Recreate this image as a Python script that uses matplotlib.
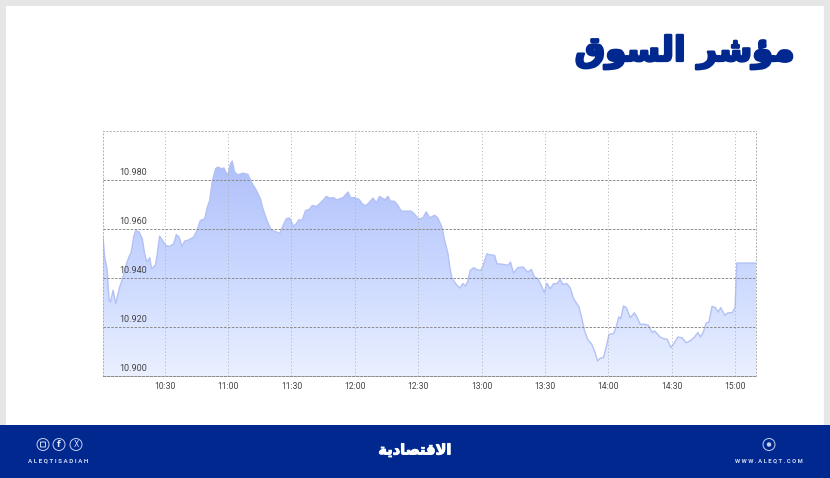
import numpy as np
import matplotlib
matplotlib.use('Agg')
import matplotlib.pyplot as plt
import matplotlib.patheffects as pe
from matplotlib.patches import Circle, Rectangle, FancyBboxPatch

# minutes after 10:00 and index level
minutes = [0.8, 1.6, 2.7, 3.7, 4.3, 5.6, 6.8, 8.7, 10.3, 11.9, 13.1, 14.2, 15.3, 16.3, 17.9, 19.4, 20.5, 21.6, 22.9, 23.8,
           25.6, 26.5, 27.6, 28.9, 30.5, 32.4, 34.3, 35.5, 36.8, 38.2, 39.5, 41.0, 42.1, 43.7, 45.3, 46.9, 48.9, 50.0, 51.3, 52.6,
           54.1, 55.2, 56.8, 58.1, 59.2, 60.1, 61.1, 62.0, 63.1, 64.7, 67.1, 69.4, 71.0, 73.4, 75.3, 76.5, 78.4, 80.5, 82.5, 84.4,
           85.7, 87.6, 89.1, 91.0, 92.3, 93.6, 95.0, 96.7, 98.3, 99.9, 101.8, 103.3, 104.9, 106.5, 108.1, 110.0, 111.5, 114.4, 116.8, 117.9,
           119.9, 122.0, 123.8, 125.4, 127.0, 128.6, 130.2, 131.7, 134.1, 135.7, 136.8, 138.8, 140.4, 142.0, 144.4, 146.7, 148.3, 150.2, 152.2, 153.8,
           155.4, 157.8, 159.3, 161.2, 162.5, 164.1, 165.2, 166.1, 168.0, 169.6, 171.2, 172.3, 173.5, 174.6, 176.2, 177.8, 179.5, 180.6, 182.5, 183.8,
           186.2, 187.3, 190.1, 192.5, 193.7, 195.1, 197.2, 199.6, 201.9, 203.5, 205.1, 206.7, 208.2, 209.7, 210.9, 212.5, 214.1, 215.6, 217.2, 218.5,
           220.4, 222.0, 223.5, 226.1, 227.3, 228.7, 230.3, 232.2, 233.8, 234.9, 236.2, 237.7, 239.0, 240.3, 242.5, 243.7, 245.0, 245.9, 247.2, 248.5,
           250.4, 252.4, 253.5, 255.1, 257.1, 259.0, 260.8, 261.9, 264.5, 266.3, 267.9, 269.6, 271.3, 272.9, 274.9, 276.8, 278.7, 280.8, 282.4, 283.6,
           285.0, 286.3, 287.6, 289.1, 290.7, 292.0, 293.2, 295.1, 296.6, 298.6, 300.0, 300.8, 309.9]
level = [10.9567, 10.9486, 10.9438, 10.9309, 10.9302, 10.9350, 10.9295, 10.9363, 10.9404, 10.9458, 10.9486, 10.9506, 10.9567, 10.9594, 10.9588, 10.9560, 10.9499, 10.9465, 10.9483, 10.9438,
         10.9452, 10.9499, 10.9571, 10.9554, 10.9533, 10.9529, 10.9540, 10.9577, 10.9567, 10.9529, 10.9551, 10.9554, 10.9559, 10.9567, 10.9594, 10.9635, 10.9641, 10.9683, 10.9717, 10.9798,
         10.9846, 10.9853, 10.9846, 10.9849, 10.9826, 10.9828, 10.9866, 10.9877, 10.9832, 10.9821, 10.9828, 10.9823, 10.9792, 10.9758, 10.9724, 10.9683, 10.9635, 10.9594, 10.9590, 10.9581,
         10.9608, 10.9642, 10.9645, 10.9611, 10.9622, 10.9638, 10.9635, 10.9676, 10.9679, 10.9696, 10.9692, 10.9703, 10.9717, 10.9733, 10.9726, 10.9728, 10.9719, 10.9728, 10.9751, 10.9728,
         10.9728, 10.9721, 10.9700, 10.9696, 10.9710, 10.9726, 10.9707, 10.9733, 10.9719, 10.9733, 10.9714, 10.9713, 10.9696, 10.9673, 10.9673, 10.9673, 10.9660, 10.9641, 10.9645, 10.9670,
         10.9646, 10.9656, 10.9645, 10.9608, 10.9554, 10.9499, 10.9431, 10.9397, 10.9374, 10.9359, 10.9377, 10.9367, 10.9386, 10.9431, 10.9442, 10.9434, 10.9431, 10.9447, 10.9499, 10.9495,
         10.9492, 10.9458, 10.9456, 10.9452, 10.9465, 10.9420, 10.9442, 10.9445, 10.9424, 10.9435, 10.9404, 10.9397, 10.9370, 10.9340, 10.9379, 10.9356, 10.9377, 10.9377, 10.9394, 10.9374,
         10.9377, 10.9359, 10.9316, 10.9282, 10.9241, 10.9186, 10.9148, 10.9129, 10.9094, 10.9061, 10.9073, 10.9075, 10.9118, 10.9170, 10.9173, 10.9200, 10.9241, 10.9234, 10.9286, 10.9279,
         10.9238, 10.9258, 10.9241, 10.9211, 10.9211, 10.9207, 10.9177, 10.9184, 10.9159, 10.9152, 10.9150, 10.9116, 10.9136, 10.9159, 10.9156, 10.9136, 10.9143, 10.9159, 10.9177, 10.9159,
         10.9180, 10.9216, 10.9220, 10.9284, 10.9279, 10.9261, 10.9279, 10.9248, 10.9258, 10.9258, 10.9279, 10.9461, 10.9461]

time_ticks = [30, 60, 90, 120, 150, 180, 210, 240, 270, 300]
time_labels = ['10:30', '11:00', '11:30', '12:00', '12:30', '13:00', '13:30', '14:00', '14:30', '15:00']
level_ticks = [10.90, 10.92, 10.94, 10.96, 10.98]
level_labels = ['10.900', '10.920', '10.940', '10.960', '10.980']

# title and logo are shaped by hand, matplotlib does not join arabic letters
title = '\ufed5\ufeee\ufeb4\ufedf\ufe8d \ufeae\ufeb7\ufe86\ufee3'
logo = '\ufe94\ufef3\ufea9\ufe8e\ufebc\ufe98\ufed7\ufefb\ufe8d'

W, H = 830, 478
navy = '#00288f'

fig = plt.figure(figsize=(W / 100, H / 100), dpi=100, facecolor='#e6e6e6')

# page furniture in pixel coordinates
bg = fig.add_axes([0, 0, 1, 1])
bg.set_xlim(0, W)
bg.set_ylim(H, 0)
bg.axis('off')
bg.add_patch(Rectangle((6, 6), 818, 419, fc='white', ec='none'))
bg.add_patch(Rectangle((0, 425), W, 53, fc=navy, ec='none'))

bg.text(684.5, 52, title, family='DejaVu Sans', weight='bold', fontsize=24.5, color=navy,
        ha='center', va='center', path_effects=[pe.withStroke(linewidth=1.8, foreground=navy)])
bg.text(415, 450, logo, family='DejaVu Sans', weight='bold', fontsize=10.5, color='white',
        ha='center', va='center', path_effects=[pe.withStroke(linewidth=0.7, foreground='white')])

bg.text(58.5, 461, 'A L E Q T I S A D I A H', family='Roboto', fontsize=4.5, weight='bold',
        color='#d5def5', ha='center', va='center')
bg.text(769, 461, 'W W W . A L E Q T . C O M', family='Roboto', fontsize=4.2, weight='bold',
        color='#d5def5', ha='center', va='center')

for cx in [43, 59, 76, 769]:
    bg.add_patch(Circle((cx, 444.5), 6, fc='none', ec='#c5d0f0', lw=0.7))
bg.add_patch(FancyBboxPatch((40.8, 442.3), 4.4, 4.4, boxstyle='round,pad=0.3', fc='none', ec='#d5def5', lw=0.7))
bg.text(59, 444.5, 'f', family='DejaVu Sans', weight='bold', fontsize=6, color='#e5ebfa', ha='center', va='center')
bg.text(76, 444.5, 'X', family='DejaVu Sans', fontsize=5.5, color='#e5ebfa', ha='center', va='center')
bg.add_patch(Circle((769, 444.5), 2.2, fc='#c5d0f0', ec='none'))

# chart
ax = fig.add_axes([103 / W, 1 - 376 / H, (756 - 103) / W, (376 - 131) / H])
ax.set_facecolor('none')
ax.set_xlim(minutes[0], minutes[-1])
ax.set_ylim(10.90, 11.00)

poly = ax.fill_between(minutes, level, 10.90, facecolor='none', edgecolor='none')
gradient = np.linspace(0, 1, 256).reshape(-1, 1)
cmap = matplotlib.colors.LinearSegmentedColormap.from_list('area', ['#eaf0ff', '#c9d7ff', '#aebffa'])
img = ax.imshow(gradient, extent=[minutes[0], minutes[-1], 10.90, 10.99], origin='lower',
                cmap=cmap, aspect='auto', zorder=1)
clip = poly.get_paths()[0]
img.set_clip_path(clip, transform=ax.transData)
ax.set_xlim(minutes[0], minutes[-1])
ax.set_ylim(10.90, 11.00)
ax.plot(minutes, level, color='#b3c1f5', lw=1.0, zorder=2)

ax.set_xticks(time_ticks)
ax.set_xticklabels(time_labels, family='Roboto', fontsize=6.2, color='#444444')
ax.set_yticks(level_ticks)
ax.set_yticklabels([])
ax.tick_params(length=0, pad=4)
ax.set_axisbelow(False)
ax.grid(axis='y', color='#8a8a8a', lw=0.7, ls=(0, (2.5, 1.5)), zorder=3)
ax.grid(axis='x', color='#b0b0b0', lw=0.7, ls=(0, (1, 2.5)), zorder=3)

for s in ax.spines.values():
    s.set_color('#b0b0b0')
    s.set_linewidth(0.7)
    s.set_linestyle((0, (1, 2.5)))
ax.spines['bottom'].set_color('#8a8a8a')
ax.spines['bottom'].set_linestyle((0, (2.5, 1.5)))

for v, lab in zip(level_ticks, level_labels):
    ax.annotate(lab, (minutes[0], v), xytext=(11.6, 5.6), textcoords='offset points', family='Roboto',
                fontsize=6.5, color='#444444', ha='left', va='center', zorder=4)

fig.savefig('out.png', dpi=100, facecolor=fig.get_facecolor())
